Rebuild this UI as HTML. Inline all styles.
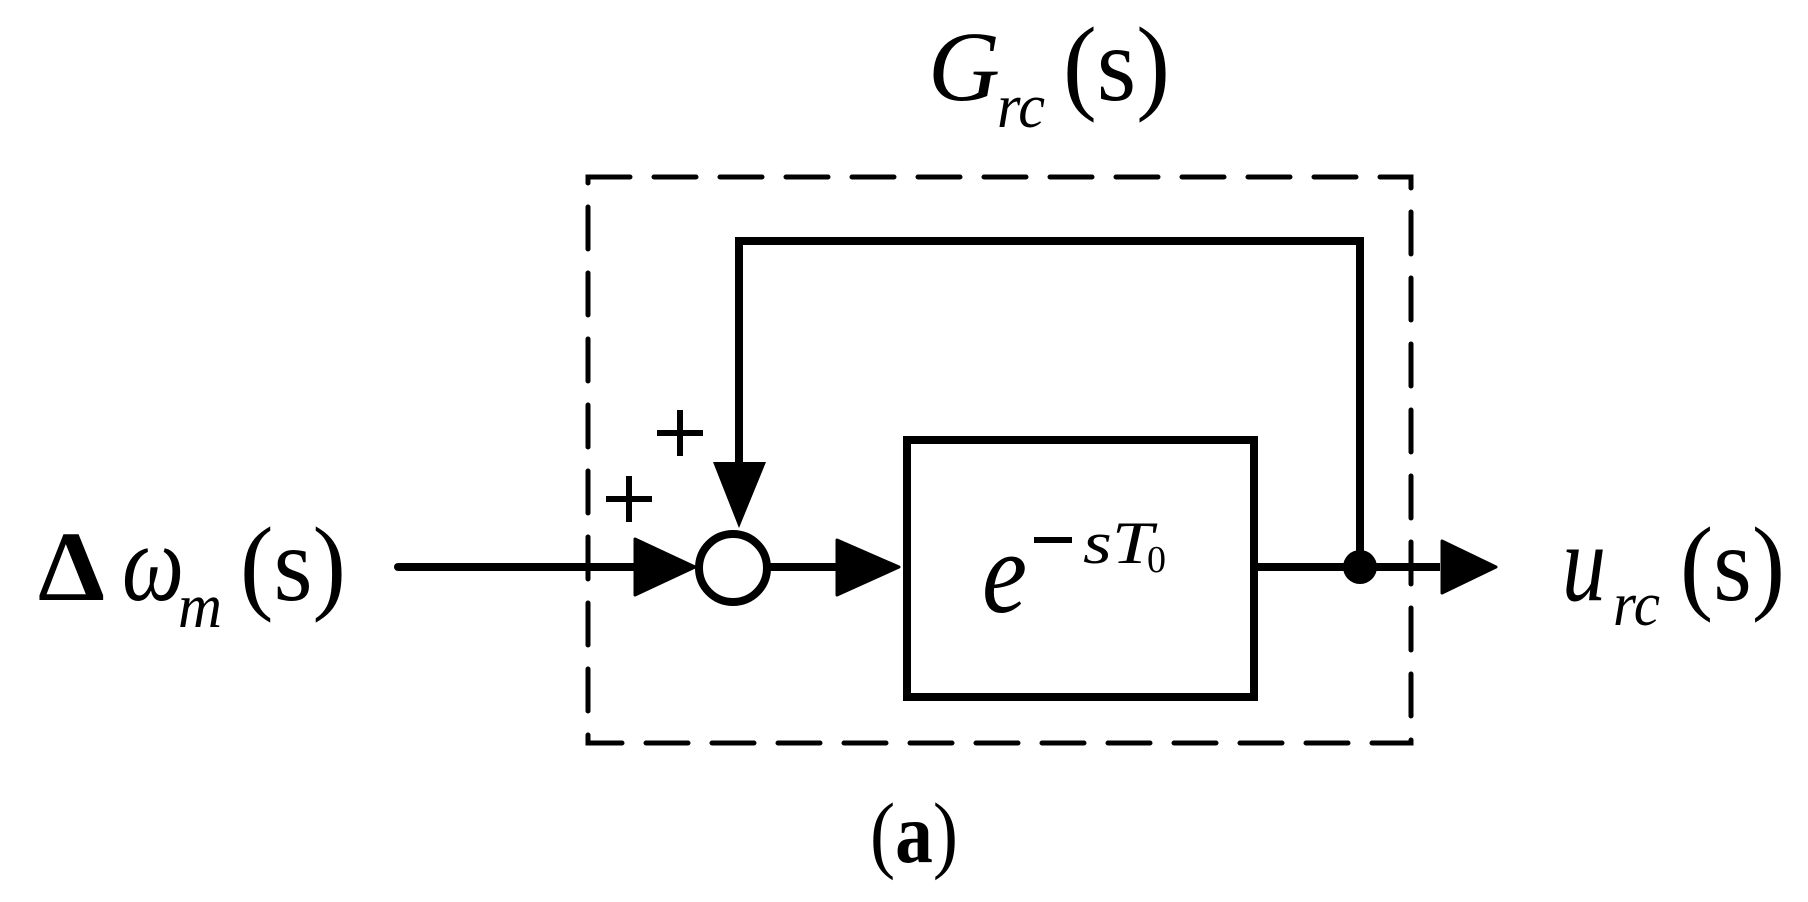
<!DOCTYPE html>
<html><head><meta charset="utf-8"><style>
html,body{margin:0;padding:0;background:#fff}
svg{display:block}
svg text{font-family:"Liberation Serif","Times New Roman",Times,serif;fill:#000}
.i{font-style:italic}
</style></head><body>
<svg width="1808" height="902" viewBox="0 0 1808 902" xmlns="http://www.w3.org/2000/svg" font-family="Liberation Serif, Times New Roman, serif">
<rect x="588" y="177" width="823" height="566" fill="none" stroke="#000" stroke-width="5" stroke-dasharray="42 24" stroke-linecap="round"/>
<polyline points="1360,567 1360,241 739,241 739,465" fill="none" stroke="#000" stroke-width="8"/>
<polygon points="713,462 766,462 739,528" fill="#000"/>
<line x1="398" y1="567" x2="640" y2="567" stroke="#000" stroke-width="8" stroke-linecap="round"/>
<polygon points="635,539 635,595 695,567" fill="#000" stroke="#000" stroke-width="3" stroke-linejoin="round"/>
<circle cx="733" cy="568" r="34" fill="#fff" stroke="#000" stroke-width="8"/>
<line x1="767" y1="567" x2="840" y2="567" stroke="#000" stroke-width="8"/>
<polygon points="837,540 837,595 899,567" fill="#000" stroke="#000" stroke-width="3" stroke-linejoin="round"/>
<rect x="907" y="440" width="347" height="257" fill="none" stroke="#000" stroke-width="8"/>
<line x1="1254" y1="567" x2="1440" y2="567" stroke="#000" stroke-width="8"/>
<circle cx="1360" cy="567" r="17" fill="#000"/>
<polygon points="1442,541 1442,593 1496,567" fill="#000" stroke="#000" stroke-width="3" stroke-linejoin="round"/>
<g stroke="#000" stroke-width="6">
<line x1="606" y1="499" x2="652" y2="499"/><line x1="629" y1="476" x2="629" y2="522"/>
<line x1="657" y1="433" x2="703" y2="433"/><line x1="680" y1="410" x2="680" y2="456"/>
</g>
<text x="38" y="600" font-size="100" font-weight="bold" textLength="67" lengthAdjust="spacingAndGlyphs">Δ</text>
<text x="122" y="600" font-size="110" class="i" textLength="62" lengthAdjust="spacingAndGlyphs">ω</text>
<text x="178" y="627" font-size="62" class="i" textLength="44" lengthAdjust="spacingAndGlyphs">m</text>
<text x="240" y="600" font-size="106" textLength="106" lengthAdjust="spacingAndGlyphs">(s)</text>

<text x="928" y="100" font-size="100" class="i" textLength="72" lengthAdjust="spacingAndGlyphs">G</text>
<text x="997" y="127" font-size="62" class="i" textLength="48" lengthAdjust="spacingAndGlyphs">rc</text>
<text x="1063" y="100" font-size="106" textLength="107" lengthAdjust="spacingAndGlyphs">(s)</text>

<text x="982" y="612" font-size="118" class="i" textLength="45" lengthAdjust="spacingAndGlyphs">e</text>
<rect x="1034" y="537" width="38" height="6" fill="#000"/>
<text x="1083" y="563" font-size="60" class="i" textLength="70" lengthAdjust="spacingAndGlyphs">sT</text>
<text x="1147" y="572" font-size="38">0</text>

<text x="1562" y="600" font-size="110" class="i" textLength="44" lengthAdjust="spacingAndGlyphs">u</text>
<text x="1613" y="625" font-size="62" class="i" textLength="47" lengthAdjust="spacingAndGlyphs">rc</text>
<text x="1680" y="600" font-size="106" textLength="105" lengthAdjust="spacingAndGlyphs">(s)</text>

<text x="870" y="862" font-size="86" textLength="88" lengthAdjust="spacingAndGlyphs">(<tspan font-weight="bold">a</tspan>)</text>
</svg>
</body></html>
